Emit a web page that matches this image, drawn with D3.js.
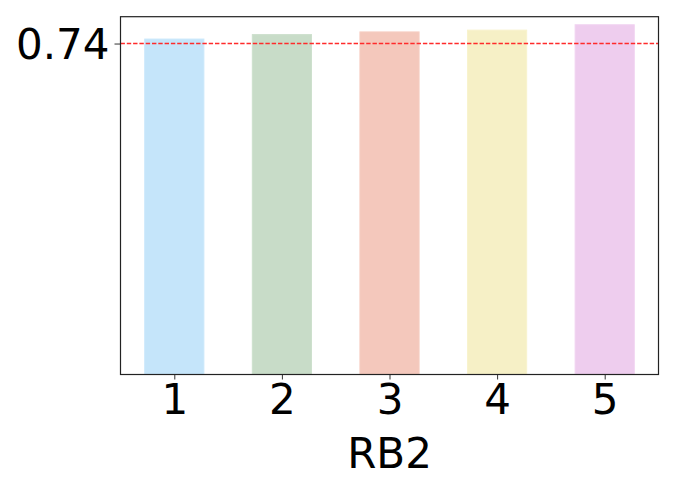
<!DOCTYPE html>
<html><head><meta charset="utf-8">
<script src="https://cdn.jsdelivr.net/npm/d3@7"></script>
<style>body{margin:0;background:#fff}svg{display:block}text{font-family:"DejaVu Sans",sans-serif}</style>
</head><body>
<script>
const categories = ["1","2","3","4","5"];
const values = [0.750, 0.760, 0.766, 0.770, 0.782];
const colors = ["#c5e5fa","#c8dcc8","#f4c8bc","#f6f0c6","#eecdee"];
const edgeColors = ["#cbe8fb","#cde0cd","#f6cec3","#f8f3cd","#f1d3f1"];
const yTicks = [0.74];
const refLine = 0.74;
const xLabel = "RB2";

const W = 676, H = 489;
const m = {left:120.5, right:17.5, top:16.7, bottom:114.5};
const svg = d3.select("body").append("svg").attr("width",W).attr("height",H);
const iw = W - m.left - m.right, ih = H - m.top - m.bottom;
const g = svg.append("g").attr("transform",`translate(${m.left},${m.top})`);

const x = d3.scaleLinear().domain([0.5,5.5]).range([0,iw]);
const y = d3.scaleLinear().domain([0,0.80]).range([ih,0]);
const bw = 0.55;

g.selectAll("rect.bar").data(values).join("rect")
  .attr("class","bar")
  .attr("x",(d,i)=>x(i+1-bw/2))
  .attr("width",(d,i)=>x(i+1+bw/2)-x(i+1-bw/2))
  .attr("y",d=>y(d))
  .attr("height",d=>ih-y(d))
  .attr("fill",(d,i)=>colors[i])
  .attr("stroke",(d,i)=>edgeColors[i])
  .attr("stroke-width",1);

g.append("line")
  .attr("x1",0).attr("x2",iw)
  .attr("y1",y(refLine)).attr("y2",y(refLine))
  .attr("stroke","#ff2b2b")
  .attr("stroke-width",1.4)
  .attr("stroke-dasharray","4.4,1.9");

const xAxis = g.append("g").attr("transform",`translate(0,${ih})`)
  .call(d3.axisBottom(x).tickValues([1,2,3,4,5]).tickFormat((d,i)=>categories[i]).tickSize(5).tickPadding(5));
xAxis.select(".domain").remove();
xAxis.selectAll("text").attr("font-size",42).attr("fill","#000");
xAxis.selectAll("line").attr("stroke","#333");

const yAxis = g.append("g")
  .call(d3.axisLeft(y).tickValues(yTicks).tickFormat(d3.format(".2f")).tickSize(6).tickPadding(5));
yAxis.select(".domain").remove();
yAxis.selectAll("text").attr("font-size",42).attr("fill","#000").attr("dy","0.35em");
yAxis.selectAll("line").attr("stroke","#333");

g.append("rect").attr("x",0).attr("y",0).attr("width",iw).attr("height",ih)
  .attr("fill","none").attr("stroke","#222").attr("stroke-width",1.2);

svg.append("text").attr("x",m.left+iw/2).attr("y",467.5)
  .attr("text-anchor","middle").attr("font-size",42).attr("fill","#000").text(xLabel);
</script>
</body></html>
